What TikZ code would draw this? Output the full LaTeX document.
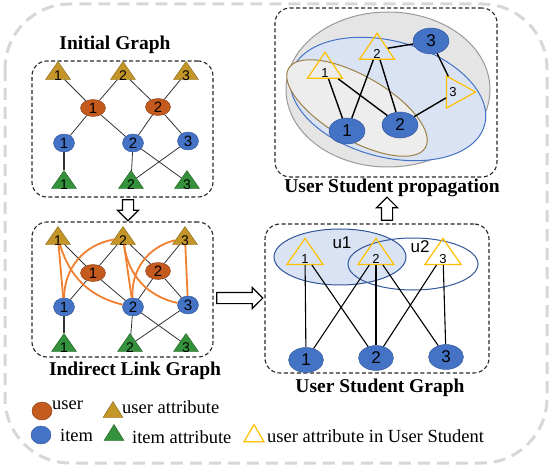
\documentclass[tikz,border=0pt]{standalone}
\usepackage{fontspec}
\setmainfont{Liberation Serif}
\newfontfamily\numfont{Liberation Sans}
\usetikzlibrary{shapes.geometric,shapes.arrows}

\definecolor{uacol}{RGB}{196,150,42}
\definecolor{uadark}{RGB}{130,98,20}
\definecolor{usercol}{RGB}{197,90,30}
\definecolor{userdark}{RGB}{130,58,15}
\definecolor{itemcol}{RGB}{68,114,196}
\definecolor{itemdark}{RGB}{47,85,151}
\definecolor{iacol}{RGB}{52,146,60}
\definecolor{iadark}{RGB}{30,90,30}
\definecolor{stucol}{RGB}{255,192,0}
\definecolor{linkcol}{RGB}{240,128,48}
\definecolor{paleblue}{RGB}{218,227,243}
\definecolor{framecol}{RGB}{215,215,215}

\tikzset{
  tri/.style={isosceles triangle, isosceles triangle apex angle=70, isosceles triangle stretches,
    shape border rotate=90, inner sep=0pt, minimum width=25pt, minimum height=18pt},
  ua/.style={tri, draw=uadark, fill=uacol},
  ia/.style={tri, draw=iadark, fill=iacol},
  sa/.style={tri, draw=stucol, line width=1.2pt, minimum width=36pt, minimum height=26pt},
  user/.style={ellipse, draw=userdark, fill=usercol, inner sep=0pt, minimum width=25pt, minimum height=17pt, font=\numfont\fontsize{15}{15}\selectfont},
  item/.style={ellipse, draw=itemdark, fill=itemcol, inner sep=0pt, minimum width=21pt, minimum height=18pt, font=\numfont\fontsize{15}{15}\selectfont},
  bigitem/.style={item, minimum width=35pt, minimum height=25pt, font=\numfont\fontsize{17}{17}\selectfont},
  tnum/.style={font=\numfont\fontsize{14}{14}\selectfont, inner sep=0pt, yshift=-3pt},
  snum/.style={font=\numfont\fontsize{13}{13}\selectfont, inner sep=0pt, yshift=-4pt},
  edge/.style={draw=black!80, line width=0.8pt},
  sedge/.style={draw=black, line width=1.1pt},
  link/.style={draw=linkcol, line width=1.8pt},
  dbox/.style={draw=black!85, dash pattern=on 4pt off 2.5pt, line width=1.1pt, rounded corners=15pt},
  ttl/.style={font=\fontsize{19.5}{20}\selectfont\bfseries, inner sep=0pt},
  leg/.style={font=\fontsize{18.5}{19}\selectfont, inner sep=0pt, anchor=west},
  harrow/.style={single arrow, draw=black, fill=white, line width=1.1pt, inner sep=0pt,
    text width=0pt, text height=5pt, text depth=5pt, single arrow head extend=5pt}
}

\begin{document}
\begin{tikzpicture}[x=1pt,y=-1pt]
\useasboundingbox (0,0) rectangle (552,476);

% outer frame
\draw[framecol, line width=3pt, dash pattern=on 12pt off 7pt, rounded corners=65pt] (5,4) rectangle (547,463);

% Initial Graph
\node[ttl] (tig) at (115,45) {Initial Graph};
\node[dbox, minimum width=181pt, minimum height=136pt] (ig) at (122.5,129) {};
\node[ua, label={[tnum]center:1}] (a1) at (58,73) {};
\node[ua, label={[tnum]center:2}] (a2) at (123,73) {};
\node[ua, label={[tnum]center:3}] (a3) at (186,73) {};
\node[user] (u1) at (93,108) {1};
\node[user] (u2) at (158,107) {2};
\node[item] (i1) at (64,143) {1};
\node[item] (i2) at (133,143) {2};
\node[item] (i3) at (188,141) {3};
\node[ia, label={[tnum]center:1}] (b1) at (64,182) {};
\node[ia, label={[tnum]center:2}] (b2) at (131,182) {};
\node[ia, label={[tnum]center:3}] (b3) at (187,182) {};
\draw[edge] (a1) -- (u1);
\draw[edge] (a2) -- (u1);
\draw[edge] (a2) -- (u2);
\draw[edge] (a3) -- (u2);
\draw[edge] (u1) -- (i1);
\draw[edge] (u1) -- (i2);
\draw[edge] (u2) -- (i2);
\draw[edge] (u2) -- (i3);
\draw[edge, line width=1.2pt] (i1) -- (b1);
\draw[edge] (i2) -- (b2);
\draw[edge] (i2) -- (b3);
\draw[edge] (i3) -- (b2);

% Indirect Link Graph
\node[harrow, rotate=-90, minimum height=21pt] (ar1) at (128,207.5) {};
\node[dbox, minimum width=181pt, minimum height=135pt] (il) at (122.5,289.5) {};
\node[ttl] (til) at (135,371) {Indirect Link Graph};
\node[ua, label={[tnum]center:1}] (la1) at (58,238) {};
\node[ua, label={[tnum]center:2}] (la2) at (123,238) {};
\node[ua, label={[tnum]center:3}] (la3) at (185,238) {};
\node[user] (lu1) at (93,273) {1};
\node[user] (lu2) at (158,271) {2};
\node[item] (li1) at (64,307) {1};
\node[item] (li2) at (133,307) {2};
\node[item] (li3) at (188,305) {3};
\node[ia, label={[tnum]center:1}] (lb1) at (64,345) {};
\node[ia, label={[tnum]center:2}] (lb2) at (130,345) {};
\node[ia, label={[tnum]center:3}] (lb3) at (186,345) {};
\draw[edge] (la1) -- (lu1);
\draw[edge] (la2) -- (lu1);
\draw[edge] (la2) -- (lu2);
\draw[edge] (la3) -- (lu2);
\draw[edge] (lu1) -- (li1);
\draw[edge] (lu1) -- (li2);
\draw[edge] (lu2) -- (li2);
\draw[edge] (lu2) -- (li3);
\draw[edge, line width=1.2pt] (li1) -- (lb1);
\draw[edge] (li2) -- (lb2);
\draw[edge] (li2) -- (lb3);
\draw[edge] (li3) -- (lb2);
% indirect links
\draw[link] (la1) -- (li1);
\draw[link] (la1) to[bend right=30] (li2);
\draw[link] (la2) to[bend right=40] (li1);
\draw[link] (la2) -- (li2);
\draw[link] (la2) to[bend right=35] (li3);
\draw[link] (li2) to[bend left=40] (la3);
\draw[link] (la3) -- (li3);

% User Student Graph
\node[harrow, minimum height=46pt] (ar2) at (237,298) {};
\node[dbox, minimum width=224pt, minimum height=149pt] (sg) at (377,298.5) {};
\node[ttl] (tsg) at (380,388) {User Student Graph};
\draw[itemdark, line width=1pt, fill=paleblue] (340,257) ellipse (66 and 28);
\draw[itemdark, line width=1pt] (413,264) ellipse (65 and 26);
\node[font=\numfont\fontsize{17}{17}\selectfont, inner sep=0pt] (lu) at (342,243) {u1};
\node[font=\numfont\fontsize{17}{17}\selectfont, inner sep=0pt] (lv) at (420,247) {u2};
\node[sa, label={[snum]center:1}] (sa1) at (305,255) {};
\node[sa, label={[snum]center:2}] (sa2) at (376,255) {};
\node[sa, label={[snum]center:3}] (sa3) at (443,255) {};
\node[bigitem] (si1) at (306,360) {1};
\node[bigitem] (si2) at (376,358) {2};
\node[bigitem] (si3) at (446,357) {3};
\draw[sedge] (sa1) -- (si1);
\draw[sedge] (sa1) -- (si2);
\draw[sedge] (sa2) -- (si1);
\draw[sedge] (sa2) -- (si2);
\draw[sedge] (sa2) -- (si3);
\draw[sedge] (sa3) -- (si2);
\draw[sedge] (sa3) -- (si3);

% User Student propagation
\node[harrow, rotate=90, minimum height=23pt] (ar3) at (387,211.5) {};
\node[dbox, minimum width=222pt, minimum height=169pt] (sp) at (386,92.5) {};
\node[ttl] (tsp) at (392,188) {User Student propagation};
\draw[black!40, line width=1pt, fill=black!10] (388,89.5) ellipse (102 and 77.5);
\draw[itemcol, line width=1pt, fill=paleblue, rotate around={-15:(388,99)}] (388,99) ellipse (100 and 58);
\draw[uadark!80, line width=1pt, fill=black!7, rotate around={-30:(357,108)}] (357,108) ellipse (79 and 32);
\node[sa, minimum width=35pt, minimum height=26pt, label={[snum]center:1}] (pa1) at (325,69) {};
\node[sa, minimum width=35pt, minimum height=26pt, label={[snum]center:2}] (pa2) at (377,50) {};
\node[sa, shape border rotate=0, minimum width=32pt, minimum height=29pt, label={[snum, yshift=4pt, xshift=-3pt]center:3}] (pa3) at (456,92) {};
\node[bigitem, minimum width=36pt, minimum height=26pt] (pi1) at (347,131) {1};
\node[bigitem, minimum width=36pt, minimum height=26pt] (pi2) at (400,125) {2};
\node[bigitem, minimum width=36pt, minimum height=26pt] (pi3) at (431,41) {3};
\draw[sedge, line width=1.4pt] (pa1) -- (pi1);
\draw[sedge, line width=1.4pt] (pa1) -- (pi2);
\draw[sedge, line width=1.4pt] (pa2) -- (pi1);
\draw[sedge, line width=1.4pt] (pa2) -- (pi2);
\draw[sedge, line width=1.4pt] (pa2) -- (pi3);
\draw[sedge, line width=1.4pt] (pa3) -- (pi3);
\draw[sedge, line width=1.4pt] (pa3) -- (pi2);

% legend
\node[user, minimum width=20pt, minimum height=18pt] (k1) at (42,411) {};
\node[leg] (k1t) at (52,405) {user};
\node[ua, minimum width=20pt, minimum height=16pt] (k2) at (113,412) {};
\node[leg] (k2t) at (122,407) {user attribute};
\node[item, minimum width=20pt, minimum height=18pt] (k3) at (41,435) {};
\node[leg] (k3t) at (60,435) {item};
\node[ia, minimum width=20pt, minimum height=16pt] (k4) at (114,435) {};
\node[leg] (k4t) at (132,437) {item attribute};
\node[sa, minimum width=20pt, minimum height=17pt] (k5) at (254,436) {};
\node[leg] (k5t) at (267,436) {user attribute in User Student};
\end{tikzpicture}
\end{document}
